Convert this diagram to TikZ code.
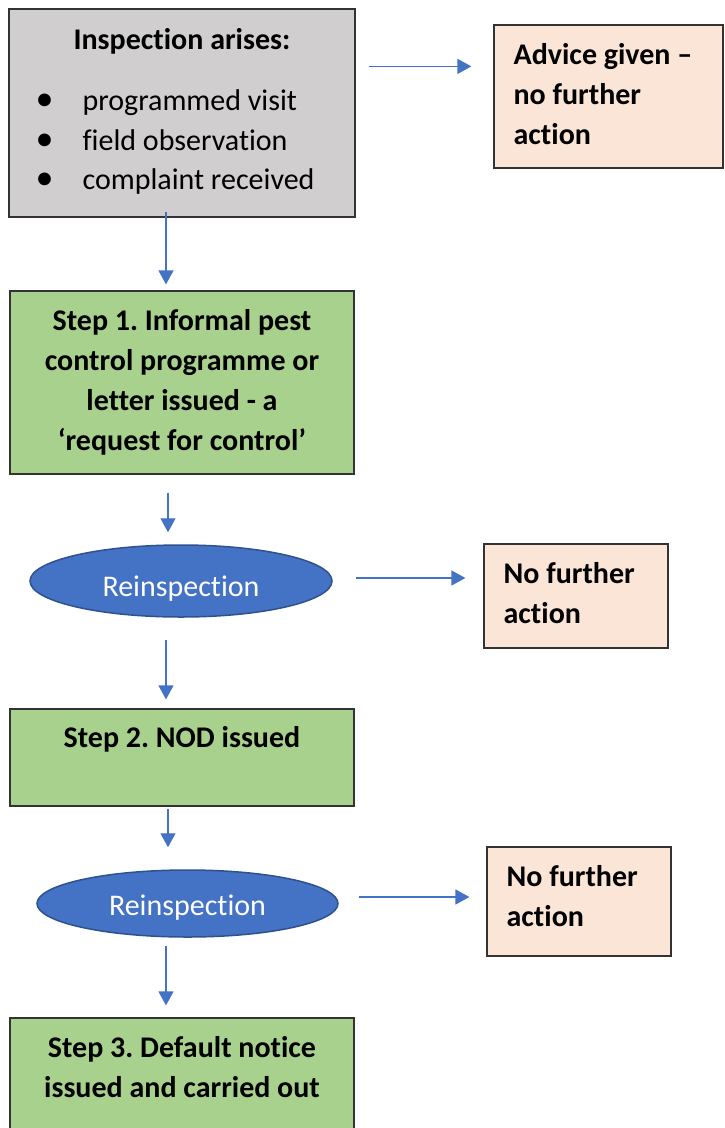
\documentclass[tikz,border=0pt]{standalone}
\usepackage{fontspec}
\setmainfont[Ligatures={NoCommon}]{Carlito}
\usetikzlibrary{arrows.meta,shapes.geometric}
\definecolor{boxgray}{HTML}{D0CECE}
\definecolor{peach}{HTML}{FBE5D6}
\definecolor{stepgreen}{HTML}{A9D18E}
\definecolor{ovalblue}{HTML}{4472C4}
\definecolor{ovaledge}{HTML}{2F528F}
\definecolor{edge}{HTML}{333333}
\definecolor{arrowblue}{HTML}{4472C4}
\frenchspacing
\begin{document}
\begin{tikzpicture}[x=1pt,y=-1pt,
  box/.style={draw=edge, line width=1.2pt, rectangle, inner sep=0pt},
  oval/.style={draw=ovaledge, line width=1.5pt, fill=ovalblue, ellipse, inner sep=0pt},
  btxt/.style={font=\fontsize{30}{40}\selectfont\bfseries, inner sep=0pt, text=black},
  rtxt/.style={font=\fontsize{30}{39.5}\selectfont, inner sep=0pt, text=black},
  otxt/.style={font=\fontsize{30}{40}\selectfont, inner sep=0pt, text=white, anchor=base},
  arr/.style={draw=arrowblue, line width=1.3pt, -{Triangle[length=14pt,width=15pt]}}]
\useasboundingbox (0,0) rectangle (724,1128);
\fill[white] (0,0) rectangle (724,1128);

% boxes
\node[box, fill=boxgray, minimum width=346pt, minimum height=208pt] (insp) at (182,113) {};
\node[box, fill=peach, minimum width=229pt, minimum height=143pt] (adv) at (608.5,96.5) {};
\node[box, fill=stepgreen, minimum width=344pt, minimum height=183pt] (s1) at (182,382.5) {};
\node[oval, minimum width=302pt, minimum height=72pt] (r1) at (181,581) {};
\node[box, fill=peach, minimum width=184pt, minimum height=104pt] (n1) at (576,596) {};
\node[box, fill=stepgreen, minimum width=344pt, minimum height=97pt] (s2) at (182,757.5) {};
\node[oval, minimum width=301pt, minimum height=67pt] (r2) at (187.5,903.5) {};
\node[box, fill=peach, minimum width=184pt, minimum height=109pt] (n2) at (579,901.5) {};
\node[box, fill=stepgreen, minimum width=344pt, minimum height=130pt] (s3) at (182,1083) {};

% texts
\node[btxt, anchor=north] (tinsp) at ([shift={(0,13)}]insp.north) {\strut Inspection arises:};
\node[rtxt, anchor=north west, align=left] (tlist) at ([shift={(27,74.4)}]insp.north west)
  {\strut\makebox[47pt][l]{{\fontsize{36}{39.5}\selectfont •}}programmed visit\\
   \makebox[47pt][l]{{\fontsize{36}{39.5}\selectfont •}}field observation\\
   \makebox[47pt][l]{{\fontsize{36}{39.5}\selectfont •}}complaint received};
\node[btxt, anchor=north west, align=left] (tadv) at ([shift={(20,12)}]adv.north west)
  {\strut Advice given –\\no further\\action};
\node[btxt, anchor=north, align=center] (ts1) at ([shift={(0,12)}]s1.north)
  {\strut Step 1. Informal pest\\control programme or\\letter issued - a\\‘request for control’};
\node[otxt] (tr1) at ([shift={(0,15)}]r1.center) {Reinspection};
\node[btxt, anchor=north west, align=left] (tn1) at ([shift={(20,12)}]n1.north west)
  {\strut No further\\action};
\node[btxt, anchor=north, align=center] (ts2) at ([shift={(0,11)}]s2.north)
  {\strut Step 2. NOD issued};
\node[otxt] (tr2) at ([shift={(0,11.5)}]r2.center) {Reinspection};
\node[btxt, anchor=north west, align=left] (tn2) at ([shift={(20,12)}]n2.north west)
  {\strut No further\\action};
\node[btxt, anchor=north, align=center] (ts3) at ([shift={(0,12)}]s3.north)
  {\strut Step 3. Default notice\\issued and carried out};

% connectors
\draw[arr] ([shift={(13,58)}]insp.north east) -- ([shift={(-22,42)}]adv.north west);
\draw[arr] ([shift={(-16,-6)}]insp.south) -- ([shift={(-16,-6)}]s1.north);
\draw[arr] ([shift={(-14,18)}]s1.south) -- ([shift={(-13,-12)}]r1.north);
\draw[arr] ([shift={(23,-3)}]r1.east) -- ([shift={(-18,-18)}]n1.west);
\draw[arr] ([shift={(-15,22)}]r1.south) -- ([shift={(-16,-9)}]s2.north);
\draw[arr] ([shift={(-14,2)}]s2.south) -- ([shift={(-19.5,-22)}]r2.north);
\draw[arr] ([shift={(20,-6.5)}]r2.east) -- ([shift={(-17,-4.5)}]n2.west);
\draw[arr] ([shift={(-21.5,8)}]r2.south) -- ([shift={(-16,-12)}]s3.north);
\end{tikzpicture}
\end{document}
